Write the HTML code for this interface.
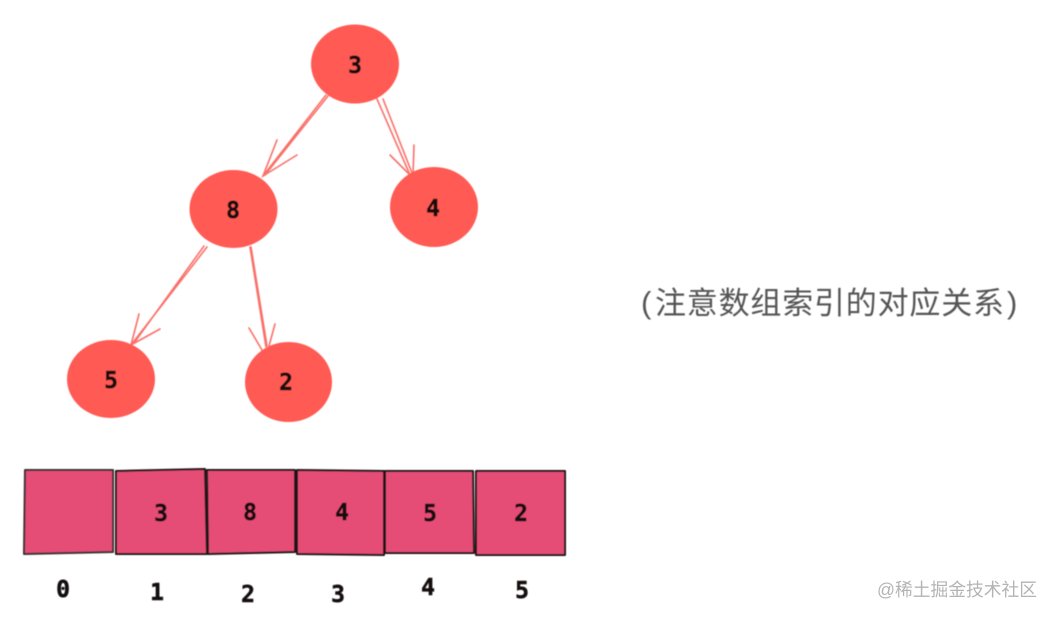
<!DOCTYPE html>
<html>
<head>
<meta charset="utf-8">
<style>
html,body{margin:0;padding:0;background:#fff;width:1056px;height:618px;overflow:hidden}
svg{display:block}
.d{font-family:"DejaVu Sans Mono","Liberation Mono",monospace;font-weight:bold;font-size:23px;fill:#120c0e;stroke:#120c0e;stroke-width:0.5px;text-anchor:middle;dominant-baseline:central}
.cap{font-family:"Liberation Sans","Noto Sans CJK SC",sans-serif;fill:#555}
.wm{font-family:"Liberation Sans","Noto Sans CJK SC",sans-serif;fill:#b4b4b4;font-size:18px}
</style>
</head>
<body>
<svg width="1056" height="618" viewBox="0 0 1056 618" xmlns="http://www.w3.org/2000/svg">
<defs><filter id="b" x="-5%" y="-5%" width="110%" height="110%"><feGaussianBlur stdDeviation="0.45"/></filter></defs>
<rect width="1056" height="618" fill="#fff"/>
<g filter="url(#b)">
  <!-- connectors -->
  <g fill="none" stroke="#fa6f69" stroke-width="1.6" stroke-linecap="round">
    <path d="M326 95 L263 176 M328 96 L265 175"/>
    <path d="M277 140 L263 176 L297 155"/>
    <path d="M377 99 L410 175 M383 99 L412 173"/>
    <path d="M390 155 L410 175 M414 145 L413 175"/>
    <path d="M207 247 L131 345 M204 246 L134 343"/>
    <path d="M139 314 L131 345 L160 329"/>
    <path d="M250 247 L266 347 M251 247 L267 346"/>
    <path d="M249 328 L262 350 M275 324 L269 346"/>
  </g>
  <!-- nodes -->
  <g fill="#ff5a52">
    <ellipse cx="355" cy="64" rx="44" ry="39.5"/>
    <ellipse cx="233.5" cy="209" rx="44" ry="39"/>
    <ellipse cx="434" cy="207" rx="44" ry="40"/>
    <ellipse cx="111" cy="379" rx="44" ry="39"/>
    <ellipse cx="288.5" cy="382" rx="43.5" ry="40"/>
  </g>
  <text class="d" x="355" y="66">3</text>
  <text class="d" x="233" y="211">8</text>
  <text class="d" x="433" y="209">4</text>
  <text class="d" x="111" y="381">5</text>
  <text class="d" x="286" y="383">2</text>
  <!-- array cells -->
  <g fill="#e64e76" stroke="#1e1619" stroke-width="2" stroke-linejoin="round">
    <path d="M25 470 L113 470 L113 552 L24 554 Z" stroke="#3a3034"/>
    <path d="M116 471 L205 469 L207 554 L116 554 Z"/>
    <path d="M207 470 L295 470 L295 552 L208 554 Z"/>
    <path d="M297 470 L384 471 L384 555 L297 554 Z"/>
    <path d="M385 471 L473 471 L474 553 L385 553 Z"/>
    <path d="M476 471 L565 471 L565 555 L476 555 Z"/>
  </g>
  <text class="d" x="161" y="514">3</text>
  <text class="d" x="250" y="513">8</text>
  <text class="d" x="342" y="513">4</text>
  <text class="d" x="430" y="514">5</text>
  <text class="d" x="521" y="514">2</text>
  <!-- indices -->
  <text class="d" x="63" y="590">0</text>
  <text class="d" x="157" y="593">1</text>
  <text class="d" x="248" y="595">2</text>
  <text class="d" x="338" y="595">3</text>
  <text class="d" x="428" y="588">4</text>
  <text class="d" x="522" y="591">5</text>
  <!-- caption -->
  <text class="cap" x="641" y="313" font-size="31">(</text>
  <text class="cap" x="655" y="314" font-size="31" textLength="349" lengthAdjust="spacing">注意数组索引的对应关系</text>
  <text class="cap" x="1007" y="313" font-size="31">)</text>
</g>
<text class="wm" x="877" y="596" textLength="160" lengthAdjust="spacingAndGlyphs">@稀土掘金技术社区</text>
</svg>
</body>
</html>
